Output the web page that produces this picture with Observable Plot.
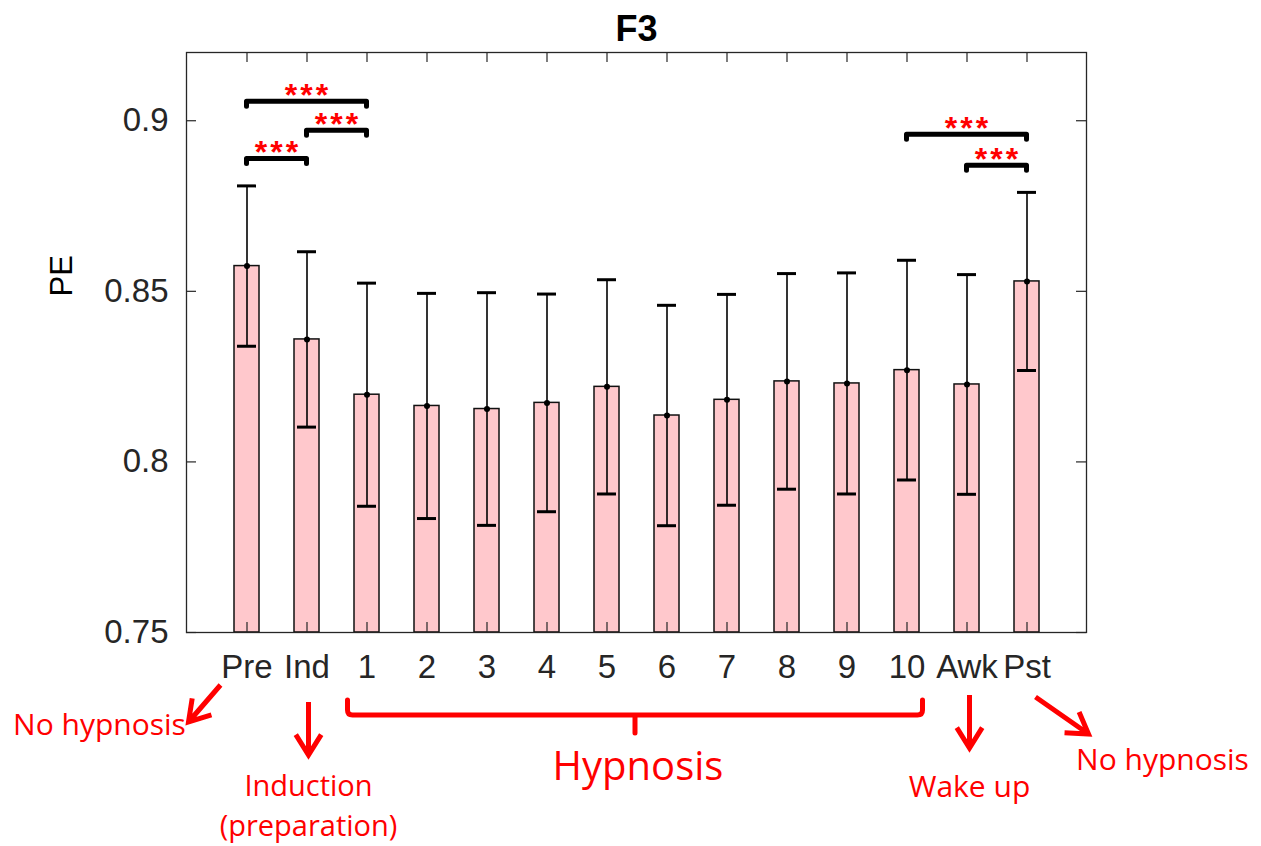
<!DOCTYPE html>
<html><head><meta charset="utf-8">
<script src="https://cdn.jsdelivr.net/npm/d3@7"></script>
<script src="https://cdn.jsdelivr.net/npm/@observablehq/plot@0.6"></script>
<style>body{margin:0;background:#fff;} #chart svg{display:block;}</style>
</head><body><div id="chart"></div>
<script>
const categories = ["Pre","Ind","1","2","3","4","5","6","7","8","9","10","Awk","Pst"];
const means  = [0.8574,0.8359,0.8197,0.8164,0.8155,0.8173,0.8220,0.8136,0.8182,0.8236,0.8230,0.8269,0.8227,0.8529];
const errors = [0.0235,0.0257,0.0327,0.0330,0.0341,0.0319,0.0314,0.0323,0.0309,0.0316,0.0324,0.0322,0.0322,0.0261];
const yTicks = [0.75,0.8,0.85,0.9];
const yTickLabels = ["0.75","0.8","0.85","0.9"];
const sigFrom  = ["Pre","Pre","Ind","10","Awk"];
const sigTo    = ["Ind","1","1","Pst","Pst"];
const sigLevel = [0.8888,0.9056,0.8971,0.8959,0.8868];
const sigText  = ["***","***","***","***","***"];
const title = "F3";
const yLabel = "PE";

const data = categories.map((c,i)=>({cat:c, mean:means[i], lo:means[i]-errors[i], hi:means[i]+errors[i]}));
const ink = "#262626";

const chart = Plot.plot({
  width: 1261, height: 846,
  marginTop: 52, marginBottom: 214, marginLeft: 186, marginRight: 175,
  style: {fontFamily: "'Liberation Sans', Arial, sans-serif", background: "white", overflow: "visible"},
  x: {domain: categories, type: "band", paddingInner: 0.59, paddingOuter: 0.795, align: 0.5, label: null},
  y: {domain: [0.75, 0.92], label: null},
  marks: [
    Plot.barY(data, {x: "cat", y1: 0.75, y2: "mean", fill: "#ffc8cc", stroke: "#111", strokeWidth: 1.5}),
    Plot.ruleX(data, {x: "cat", y1: "lo", y2: "hi", stroke: "#000", strokeWidth: 1.6}),
    Plot.tickY(data, {x: "cat", y: "hi", stroke: "#000", strokeWidth: 3, insetLeft: 3, insetRight: 3}),
    Plot.tickY(data, {x: "cat", y: "lo", stroke: "#000", strokeWidth: 3, insetLeft: 3, insetRight: 3}),
    Plot.dot(data, {x: "cat", y: "mean", r: 3, fill: "#000"}),
    Plot.tickY(yTicks, {y: d => d, insetRight: 890, stroke: ink, strokeWidth: 1.2}),
    Plot.tickY(yTicks, {y: d => d, insetLeft: 890, stroke: ink, strokeWidth: 1.2}),
    Plot.ruleX(categories, {x: d => d, insetBottom: 570, stroke: ink, strokeWidth: 1.2}),
    Plot.ruleX(categories, {x: d => d, insetTop: 570, stroke: ink, strokeWidth: 1.2}),
    Plot.frame({stroke: ink, strokeWidth: 1.3}),
    Plot.axisY({ticks: yTicks, tickFormat: (d) => yTickLabels[yTicks.indexOf(d)], tickSize: 0, tickPadding: 18, fontSize: 33, fill: ink, label: null}),
    Plot.axisX({tickSize: 0, tickPadding: 22, fontSize: 33, fill: ink, label: null}),
    Plot.text([title], {frameAnchor: "top", dy: -37, fontSize: 36, fontWeight: "bold", fill: "#000"}),
    Plot.text([yLabel], {frameAnchor: "left", dx: -124, dy: -46, rotate: -90, fontSize: 31, fill: "#000"})
  ]
});
document.getElementById("chart").appendChild(chart);

// Overlay: significance brackets and annotations, positioned through Plot's scales
const xs = chart.scale("x"), ys = chart.scale("y");
const cx = c => xs.apply(c) + xs.bandwidth / 2;
const svg = d3.select(chart);
const g = svg.append("g");

sigFrom.forEach((a, i) => {
  const x1 = cx(a), x2 = cx(sigTo[i]), y = ys.apply(sigLevel[i]);
  g.append("path").attr("d", `M${x1},${y+5}V${y}H${x2}V${y+5}`)
    .attr("fill","none").attr("stroke","#000").attr("stroke-width",5).attr("stroke-linejoin","round").attr("stroke-linecap","round");
  g.append("text").attr("x",(x1+x2)/2 + 1.5).attr("y",y+5).attr("text-anchor","middle")
    .attr("letter-spacing", 3)
    .attr("font-family","'Liberation Sans', Arial, sans-serif").attr("font-weight","bold").attr("font-size",32).attr("fill","#ff0000").text(sigText[i]);
});

const red = "#ff0000";
const yb = ys.apply(0.75);
function arrow(x1,y1,x2,y2,len=24,ang=32){
  const a = Math.atan2(y2-y1,x2-x1), r = ang*Math.PI/180;
  const p1 = [x2 - len*Math.cos(a-r), y2 - len*Math.sin(a-r)];
  const p2 = [x2 - len*Math.cos(a+r), y2 - len*Math.sin(a+r)];
  g.append("path").attr("d",`M${x1},${y1}L${x2},${y2}M${p1[0]},${p1[1]}L${x2},${y2}L${p2[0]},${p2[1]}`)
    .attr("fill","none").attr("stroke",red).attr("stroke-width",5).attr("stroke-linejoin","miter").attr("stroke-linecap","butt");
}
function label(x,y,t,size=30){
  g.append("text").attr("x",x).attr("y",y).attr("text-anchor","middle")
    .attr("font-family","'Open Sans', 'Noto Sans', sans-serif").attr("font-size",size).attr("fill",red).text(t);
}
// Pre
arrow(cx("Pre")-26, yb+53, cx("Pre")-58, yb+90);
label(cx("Pre")-147, yb+103, "No hypnosis");
// Ind
arrow(cx("Ind")+2, yb+70, cx("Ind")+2, yb+123);
label(cx("Ind")+2, yb+164, "Induction", 29);
label(cx("Ind")+2, yb+204, "(preparation)", 29);
// Hypnosis brace
const bx1 = cx("1") - 19, bx2 = cx("10") + 16, bm = (bx1 + bx2) / 2, byTop = yb + 68, byH = yb + 83;
g.append("path").attr("d",`M${bx1},${byTop}V${byH-5}Q${bx1},${byH} ${bx1+5},${byH}H${bx2-5}Q${bx2},${byH} ${bx2},${byH-5}V${byTop}M${bm},${byH}V${byH+18}`)
  .attr("fill","none").attr("stroke",red).attr("stroke-width",5).attr("stroke-linecap","round");
label(bm + 3, yb + 148, "Hypnosis", 40);
// Awk
arrow(cx("Awk")+3, yb+63, cx("Awk")+3, yb+116);
label(cx("Awk")+3, yb+165, "Wake up");
// Pst
arrow(cx("Pst")+9, yb+65, cx("Pst")+62, yb+102);
label(cx("Pst")+136, yb+138, "No hypnosis");
</script>
</body></html>
